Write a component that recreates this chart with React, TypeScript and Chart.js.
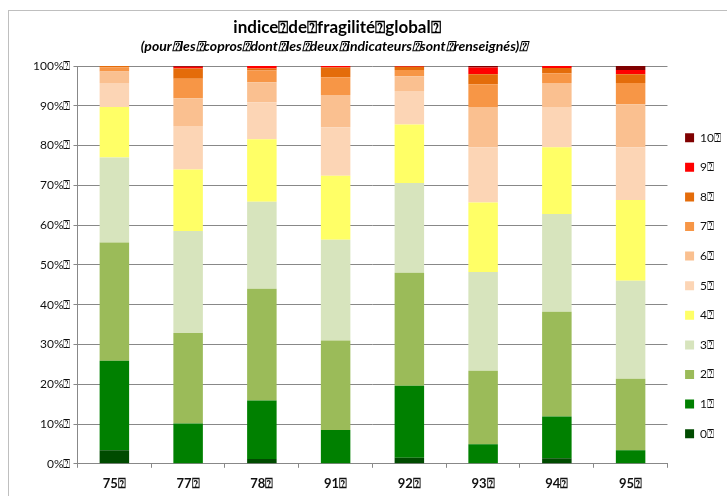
import React, { useEffect, useRef } from "react";
import { Chart, registerables } from "chart.js";

Chart.register(...registerables);

const Q = "\u2370";

const categories = ["75", "77", "78", "91", "92", "93", "94", "95"];
const seriesNames = ["0", "1", "2", "3", "4", "5", "6", "7", "8", "9", "10"];

// share (%) of each class per département
const s0 = [3.4, 0, 1.2, 0, 1.5, 0, 1.4, 0];
const s1 = [22.5, 10.1, 14.7, 8.5, 18.1, 4.9, 10.5, 3.4];
const s2 = [29.7, 22.8, 28.1, 22.5, 28.4, 18.5, 26.3, 18.0];
const s3 = [21.4, 25.6, 21.9, 25.3, 22.6, 24.8, 24.6, 24.6];
const s4 = [12.7, 15.5, 15.7, 16.1, 14.7, 17.5, 16.8, 20.3];
const s5 = [6.0, 10.9, 9.3, 12.2, 8.4, 13.9, 10.1, 13.3];
const s6 = [2.9, 7.0, 5.0, 8.1, 3.7, 10.1, 6.0, 10.8];
const s7 = [1.1, 4.9, 3.0, 4.5, 1.6, 5.7, 2.5, 5.3];
const s8 = [0.3, 2.6, 0.5, 2.4, 0.8, 2.5, 1.3, 2.2];
const s9 = [0.0, 0.4, 0.6, 0.4, 0.2, 1.7, 0.5, 1.1];
const s10 = [0.0, 0.2, 0.0, 0.0, 0.0, 0.4, 0.0, 1.0];

const series = [s0, s1, s2, s3, s4, s5, s6, s7, s8, s9, s10];

const colors = [
  "#004b00",
  "#008000",
  "#9bbb59",
  "#d7e4bd",
  "#ffff66",
  "#fcd5b5",
  "#fac090",
  "#f79646",
  "#e46c0a",
  "#ff0000",
  "#7f0000",
];

const titleText = `indice${Q}de${Q}fragilité${Q}global${Q}`;
const subtitleText = `(pour${Q}les${Q}copros${Q}dont${Q}les${Q}deux${Q}indicateurs${Q}sont${Q}renseignés)${Q}`;

const FONT = "Lato, 'Open Sans', sans-serif";

export default function App() {
  const ref = useRef<HTMLCanvasElement>(null);

  useEffect(() => {
    const totals = categories.map((_, i) =>
      series.reduce((acc, s) => acc + s[i], 0)
    );
    const chart = new Chart(ref.current as HTMLCanvasElement, {
      type: "bar",
      data: {
        labels: categories.map((c) => c + Q),
        datasets: series.map((s, k) => ({
          label: seriesNames[k] + Q,
          data: s.map((v, i) => (v / totals[i]) * 100),
          backgroundColor: colors[k],
          borderWidth: 0,
          barPercentage: 0.4,
          categoryPercentage: 1,
        })),
      },
      options: {
        responsive: false,
        animation: false,
        layout: { padding: { left: 21, top: 55, right: 18, bottom: 4.6 } },
        plugins: {
          tooltip: { enabled: false },
          legend: {
            position: "right",
            reverse: true,
            title: { display: true, text: "", padding: 0, font: { size: 5, family: FONT } },
            labels: {
              boxWidth: 9,
              boxHeight: 9,
              padding: 17.6,
              color: "#111",
              font: { family: FONT, size: 12 },
            },
          },
        },
        scales: {
          x: {
            stacked: true,
            grid: { drawOnChartArea: false, tickLength: 4, color: "#888" },
            border: { color: "#888" },
            ticks: {
              color: "#111",
              padding: 8,
              font: { family: FONT, size: 13, weight: 700 },
            },
          },
          y: {
            stacked: true,
            min: 0,
            max: 100,
            grid: { color: "#888", tickLength: 4 },
            border: { color: "#888" },
            ticks: {
              stepSize: 10,
              padding: 3,
              color: "#111",
              font: { family: FONT, size: 12 },
              callback: (v: any) => v + "%" + Q,
            },
          },
        },
      },
    });
    return () => chart.destroy();
  }, []);

  return (
    <div style={{ position: "fixed", inset: 0, overflow: "hidden", background: "#fff" }}>
      <div
        style={{
          position: "absolute",
          left: 8,
          top: 10,
          width: 760,
          height: 600,
          border: "1px solid #bfbfbf",
        }}
      >
        <canvas
          ref={ref}
          width={740}
          height={493}
          style={{ position: "absolute", left: 0, top: 0, width: 740, height: 493 }}
        />
      </div>
      <div
        style={{
          position: "absolute",
          left: 137,
          width: 400,
          top: 18,
          textAlign: "center",
          fontFamily: FONT,
          fontWeight: "bold",
          fontSize: 17,
          lineHeight: "18px",
          color: "#000",
          whiteSpace: "nowrap",
        }}
      >
        {titleText}
      </div>
      <div
        style={{
          position: "absolute",
          left: 134,
          width: 400,
          top: 38,
          textAlign: "center",
          fontFamily: FONT,
          fontWeight: "bold",
          fontStyle: "italic",
          fontSize: 14,
          lineHeight: "16px",
          color: "#000",
          whiteSpace: "nowrap",
        }}
      >
        {subtitleText}
      </div>
    </div>
  );
}
